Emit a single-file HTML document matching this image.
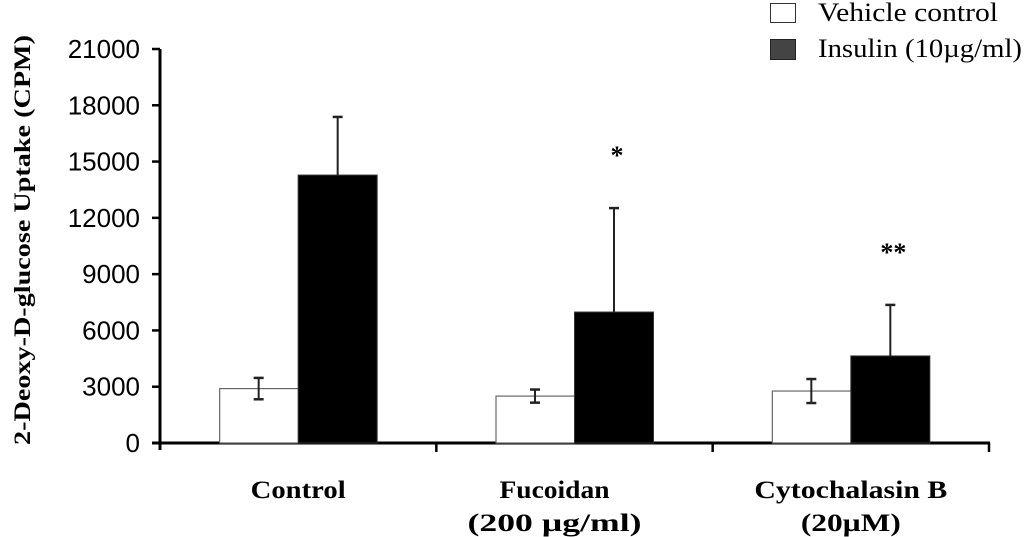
<!DOCTYPE html>
<html><head><meta charset="utf-8">
<style>
html,body{margin:0;padding:0;background:#fff;}
svg{display:block;}
.tick{font-family:"Liberation Sans",Arial,sans-serif;font-size:26px;fill:#000;}
.ser{font-family:"Liberation Serif","Times New Roman",serif;fill:#000;}
</style></head>
<body>
<svg id="chart" width="1024" height="537" viewBox="0 0 1024 537" xmlns="http://www.w3.org/2000/svg">
<g id="axes"></g>
<g id="bars"></g>
<text class="ser" transform="translate(30,240) rotate(-90)" text-anchor="middle" font-size="23" font-weight="bold" textLength="410" lengthAdjust="spacingAndGlyphs">2-Deoxy-D-glucose Uptake (CPM)</text>
<g>
<rect x="770.5" y="3.5" width="25" height="19" fill="#fff" stroke="#333" stroke-width="1"/>
<text class="ser" x="818" y="21" font-size="26" textLength="180" lengthAdjust="spacingAndGlyphs">Vehicle control</text>
<rect x="770.5" y="39.5" width="25" height="20" fill="#444" stroke="#222" stroke-width="1"/>
<text class="ser" x="818" y="57" font-size="26" textLength="204" lengthAdjust="spacingAndGlyphs">Insulin (10µg/ml)</text>
</g>
</svg>
<script>
const categories = ["Control", "Fucoidan|(200 µg/ml)", "Cytochalasin B|(20µM)"];
const vehicleValues = [2900, 2500, 2770];
const vehicleErrors = [570, 350, 640];
const insulinValues = [14280, 6980, 4640];
const insulinErrors = [3100, 5540, 2720];
const significance = ["", "*", "**"];
const yTicks = [0, 3000, 6000, 9000, 12000, 15000, 18000, 21000];

const NS = "http://www.w3.org/2000/svg";
const x0 = 160, x1 = 989, yBase = 443, yTop = 49, yMax = 21000;
const groupW = (x1 - x0) / categories.length;
const barW = 79;
function yScale(v){ return yBase - v * (yBase - yTop) / yMax; }
function groupCenter(i){ return x0 + groupW * (i + 0.5); }
function mk(tag, attrs, parent){
  const e = document.createElementNS(NS, tag);
  for (const k in attrs) e.setAttribute(k, attrs[k]);
  parent.appendChild(e); return e;
}
const axes = document.getElementById('axes');
const bars = document.getElementById('bars');

const yAxis = mk('line', {x1:x0, y1:yTop, x2:x0, y2:yBase+7, stroke:'#000', 'stroke-width':3}, axes);


yTicks.forEach(function(t){
  const y = yScale(t);
  const tk = mk('line', {x1:x0-8, y1:y, x2:x0, y2:y, stroke:'#000', 'stroke-width':2.5}, axes);
  
  
  const lb = mk('text', {x:140, y:y+9, 'text-anchor':'end', class:'tick'}, axes);
  lb.textContent = t;
  
  
});

function errBar(cx, v, e, both){
  const g = mk('g', {}, bars);
  
  
  const yt = yScale(v + e), yb = both ? yScale(v - e) : yScale(v);
  mk('line', {x1:cx, y1:yt, x2:cx, y2:yb, stroke:'#222', 'stroke-width':2}, g);
  mk('line', {x1:cx-5, y1:yt, x2:cx+5, y2:yt, stroke:'#222', 'stroke-width':2.5}, g);
  if (both) mk('line', {x1:cx-5, y1:yb, x2:cx+5, y2:yb, stroke:'#222', 'stroke-width':2.5}, g);
}

const labelWidths = [[95], [110, 174], [193, 100]];
const labelShift = [0, -20, 0];
categories.forEach(function(c, i){
  const cx = groupCenter(i);
  const vw = mk('rect', {x:cx-barW+0.5, y:yScale(vehicleValues[i]), width:barW, height:yBase-yScale(vehicleValues[i]), fill:'#fff', stroke:'#666', 'stroke-width':1.2}, bars);
  
  
  const ib = mk('rect', {x:cx, y:yScale(insulinValues[i]), width:barW, height:yBase-yScale(insulinValues[i]), fill:'#000', stroke:'#333', 'stroke-width':1}, bars);
  
  
  errBar(cx - barW/2, vehicleValues[i], vehicleErrors[i], true);
  errBar(cx + barW/2, insulinValues[i], insulinErrors[i], false);
  if (significance[i]) {
    const s = mk('text', {x:cx + barW/2 + 3, y:yScale(insulinValues[i] + insulinErrors[i]) - 44, 'text-anchor':'middle', class:'ser', 'font-size':26, 'font-weight':'bold'}, bars);
    s.textContent = significance[i];
    
    
  }
  const parts = c.split('|');
  parts.forEach(function(p, j){
    const t = mk('text', {x:cx + labelShift[i], y:498 + j*33, 'text-anchor':'middle', class:'ser', 'font-size':25, 'font-weight':'bold', textLength:labelWidths[i][j], lengthAdjust:'spacingAndGlyphs'}, axes);
    t.textContent = p;
    
    
  });
});

const xAxis = mk('line', {x1:x0-8, y1:yBase, x2:x1+1, y2:yBase, stroke:'#000', 'stroke-width':3}, axes);


for (let i = 1; i <= categories.length; i++) {
  const xt = x0 + groupW * i;
  const t = mk('line', {x1:xt, y1:yBase, x2:xt, y2:yBase+9, stroke:'#000', 'stroke-width':2.5}, axes);
  
  
}
</script>
</body></html>
